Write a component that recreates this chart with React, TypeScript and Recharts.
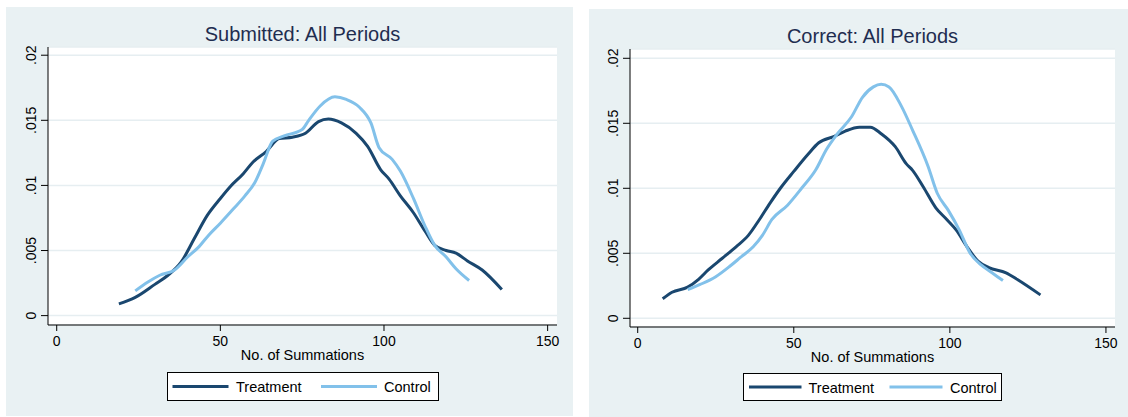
import React from "react";
import { CartesianGrid, Label, Line, LineChart, XAxis, YAxis } from "recharts";

// kernel density estimates
const submittedTreatmentX = [19, 24, 30, 34, 38, 42, 46, 50, 53, 57, 60, 64, 68, 72, 76, 80, 83, 87, 91.5, 95, 99, 101.5, 105, 109, 112.5, 115.5, 119, 122, 125.5, 130, 136];
const submittedTreatmentY = [0.0009, 0.0014, 0.0024, 0.0031, 0.0041, 0.0059, 0.0077, 0.009, 0.0099, 0.0109, 0.0118, 0.0126, 0.0136, 0.0137, 0.014, 0.0149, 0.0151, 0.0148, 0.014, 0.013, 0.0112, 0.0105, 0.0092, 0.0079, 0.0065, 0.0054, 0.005, 0.0048, 0.0042, 0.0035, 0.002];
const submittedControlX = [24, 28, 31.5, 36, 40, 43.5, 46.5, 50, 54, 57.5, 60.5, 63, 66, 69.5, 75, 77, 80.5, 85, 88.5, 92.5, 96, 98.5, 102.5, 105, 109, 112.5, 115.5, 119, 122, 126];
const submittedControlY = [0.0019, 0.0026, 0.0031, 0.0035, 0.0045, 0.0053, 0.0062, 0.0071, 0.0082, 0.0092, 0.0102, 0.0116, 0.0134, 0.0138, 0.0143, 0.015, 0.0161, 0.0168, 0.0166, 0.016, 0.0148, 0.0129, 0.012, 0.0111, 0.009, 0.0069, 0.0054, 0.0045, 0.0036, 0.0027];

const correctTreatmentX = [8, 11, 16, 19.5, 22.5, 27, 31.5, 35.5, 39, 42.5, 46, 50, 54.5, 58, 63, 66.5, 71, 74.5, 78, 82.5, 86, 88, 91.5, 95.5, 99, 102, 105.5, 109, 112.5, 118, 121.5, 129];
const correctTreatmentY = [0.0015, 0.002, 0.0024, 0.003, 0.0037, 0.0046, 0.0055, 0.0064, 0.0076, 0.0089, 0.0101, 0.0113, 0.0126, 0.0135, 0.014, 0.0144, 0.0147, 0.0147, 0.0142, 0.0132, 0.0119, 0.0114, 0.0101, 0.0085, 0.0076, 0.0068, 0.0055, 0.0044, 0.0039, 0.0035, 0.003, 0.0018];
const correctControlX = [16, 20, 25, 29.5, 33, 37, 40, 43, 48, 52.5, 57, 60.5, 64, 68.5, 72, 75.5, 78, 80.5, 84.5, 88, 93, 96, 99.5, 103, 106.5, 110, 113.5, 117];
const correctControlY = [0.0022, 0.0026, 0.0032, 0.004, 0.0047, 0.0055, 0.0064, 0.0076, 0.0087, 0.01, 0.0114, 0.013, 0.0142, 0.0155, 0.017, 0.0178, 0.018, 0.0178, 0.0163, 0.0145, 0.0117, 0.0096, 0.0083, 0.0068, 0.005, 0.0041, 0.0035, 0.0029];

const xTicks = [0, 50, 100, 150];
const yTicks = [0, 0.005, 0.01, 0.015, 0.02];
const seriesNames = ["Treatment", "Control"];

const FONT = "'Liberation Sans', Arial, sans-serif";
const PANEL_BG = "#e9f1f3";
const DARK = "#1a476f";
const LIGHT = "#82c1ea";

const zip = (xs: number[], ys: number[]) => xs.map((x, i) => ({ x, y: ys[i] }));
const fmtY = (v: number) => String(v).replace(/^0\./, ".");

function YTick({ x, y, payload }: any) {
  return (
    <text
      x={x}
      y={y}
      transform={`rotate(-90 ${x} ${y})`}
      textAnchor="middle"
      fontSize={14}
      fontFamily={FONT}
      fill="#000"
    >
      {fmtY(payload.value)}
    </text>
  );
}

interface PanelProps {
  title: string;
  left: number;
  top: number;
  width: number;
  height: number;
  plotLeft: number;
  plotRight: number;
  xDomain: [number, number];
  yDomain: [number, number];
  treatment: { x: number; y: number }[];
  control: { x: number; y: number }[];
  legendBox: [number, number, number, number];
  legendItems: [number, number, number][];
}

function Panel(p: PanelProps) {
  const [bx, by, bw, bh] = p.legendBox;
  const colors = [DARK, LIGHT];
  return (
    <div style={{ position: "absolute", left: p.left, top: p.top, width: p.width, height: p.height, background: PANEL_BG }}>
      <LineChart
        width={p.width}
        height={p.height}
        margin={{ top: 40, right: p.width - p.plotRight, left: 0, bottom: p.height - 318 - 25 }}
      >
        <CartesianGrid vertical={false} fill="#fff" stroke="#e6eef1" strokeWidth={1.5} />
        <XAxis
          type="number"
          dataKey="x"
          domain={p.xDomain}
          ticks={xTicks}
          allowDataOverflow
          height={25}
          tickSize={6}
          tickMargin={5}
          axisLine={{ stroke: "#000" }}
          tickLine={{ stroke: "#000" }}
          tick={{ fontSize: 14, fontFamily: FONT, fill: "#000" }}
        >
          <Label value="No. of Summations" position="bottom" offset={0} fontSize={14.5} fontFamily={FONT} fill="#000" />
        </XAxis>
        <YAxis
          type="number"
          domain={p.yDomain}
          ticks={yTicks}
          allowDataOverflow
          width={p.plotLeft}
          tickSize={7}
          tickMargin={5}
          axisLine={{ stroke: "#000" }}
          tickLine={{ stroke: "#000" }}
          tick={<YTick />}
        />
        <Line data={p.treatment} dataKey="y" type="monotone" stroke={DARK} strokeWidth={3} dot={false} isAnimationActive={false} />
        <Line data={p.control} dataKey="y" type="monotone" stroke={LIGHT} strokeWidth={3} dot={false} isAnimationActive={false} />
      </LineChart>
      <svg width={p.width} height={p.height} style={{ position: "absolute", left: 0, top: 0, pointerEvents: "none" }}>
        <text x={(p.plotLeft + p.plotRight) / 2} y={34} textAnchor="middle" fontSize={20} fontFamily={FONT} fill="#1f2d50">
          {p.title}
        </text>
        <rect x={bx} y={by} width={bw} height={bh} fill="#fff" stroke="#000" strokeWidth={1} />
        {p.legendItems.map(([x1, x2, tx], i) => (
          <g key={seriesNames[i]}>
            <line x1={x1} x2={x2} y1={by + bh / 2} y2={by + bh / 2} stroke={colors[i]} strokeWidth={3} />
            <text x={tx} y={by + bh / 2 + 5.5} fontSize={14.5} fontFamily={FONT} fill="#000">
              {seriesNames[i]}
            </text>
          </g>
        ))}
      </svg>
    </div>
  );
}

export default function App() {
  return (
    <div style={{ position: "absolute", left: 0, top: 0, width: 1128, height: 417, background: "#fff", overflow: "hidden" }}>
      <Panel
        title="Submitted: All Periods"
        left={6}
        top={7}
        width={567}
        height={409}
        plotLeft={42}
        plotRight={551}
        xDomain={[-2.66, 152.86]}
        yDomain={[-0.00072, 0.02063]}
        treatment={zip(submittedTreatmentX, submittedTreatmentY)}
        control={zip(submittedControlX, submittedControlY)}
        legendBox={[161.5, 365.5, 271, 28]}
        legendItems={[
          [166.5, 222.5, 230],
          [315, 371, 378],
        ]}
      />
      <Panel
        title="Correct: All Periods"
        left={589}
        top={9}
        width={539}
        height={408}
        plotLeft={41}
        plotRight={526}
        xDomain={[-2.47, 152.9]}
        yDomain={[-0.00067, 0.020715]}
        treatment={zip(correctTreatmentX, correctTreatmentY)}
        control={zip(correctControlX, correctControlY)}
        legendBox={[154.5, 364.5, 258, 27]}
        legendItems={[
          [160, 212.5, 219.5],
          [300.5, 353.5, 361],
        ]}
      />
    </div>
  );
}
